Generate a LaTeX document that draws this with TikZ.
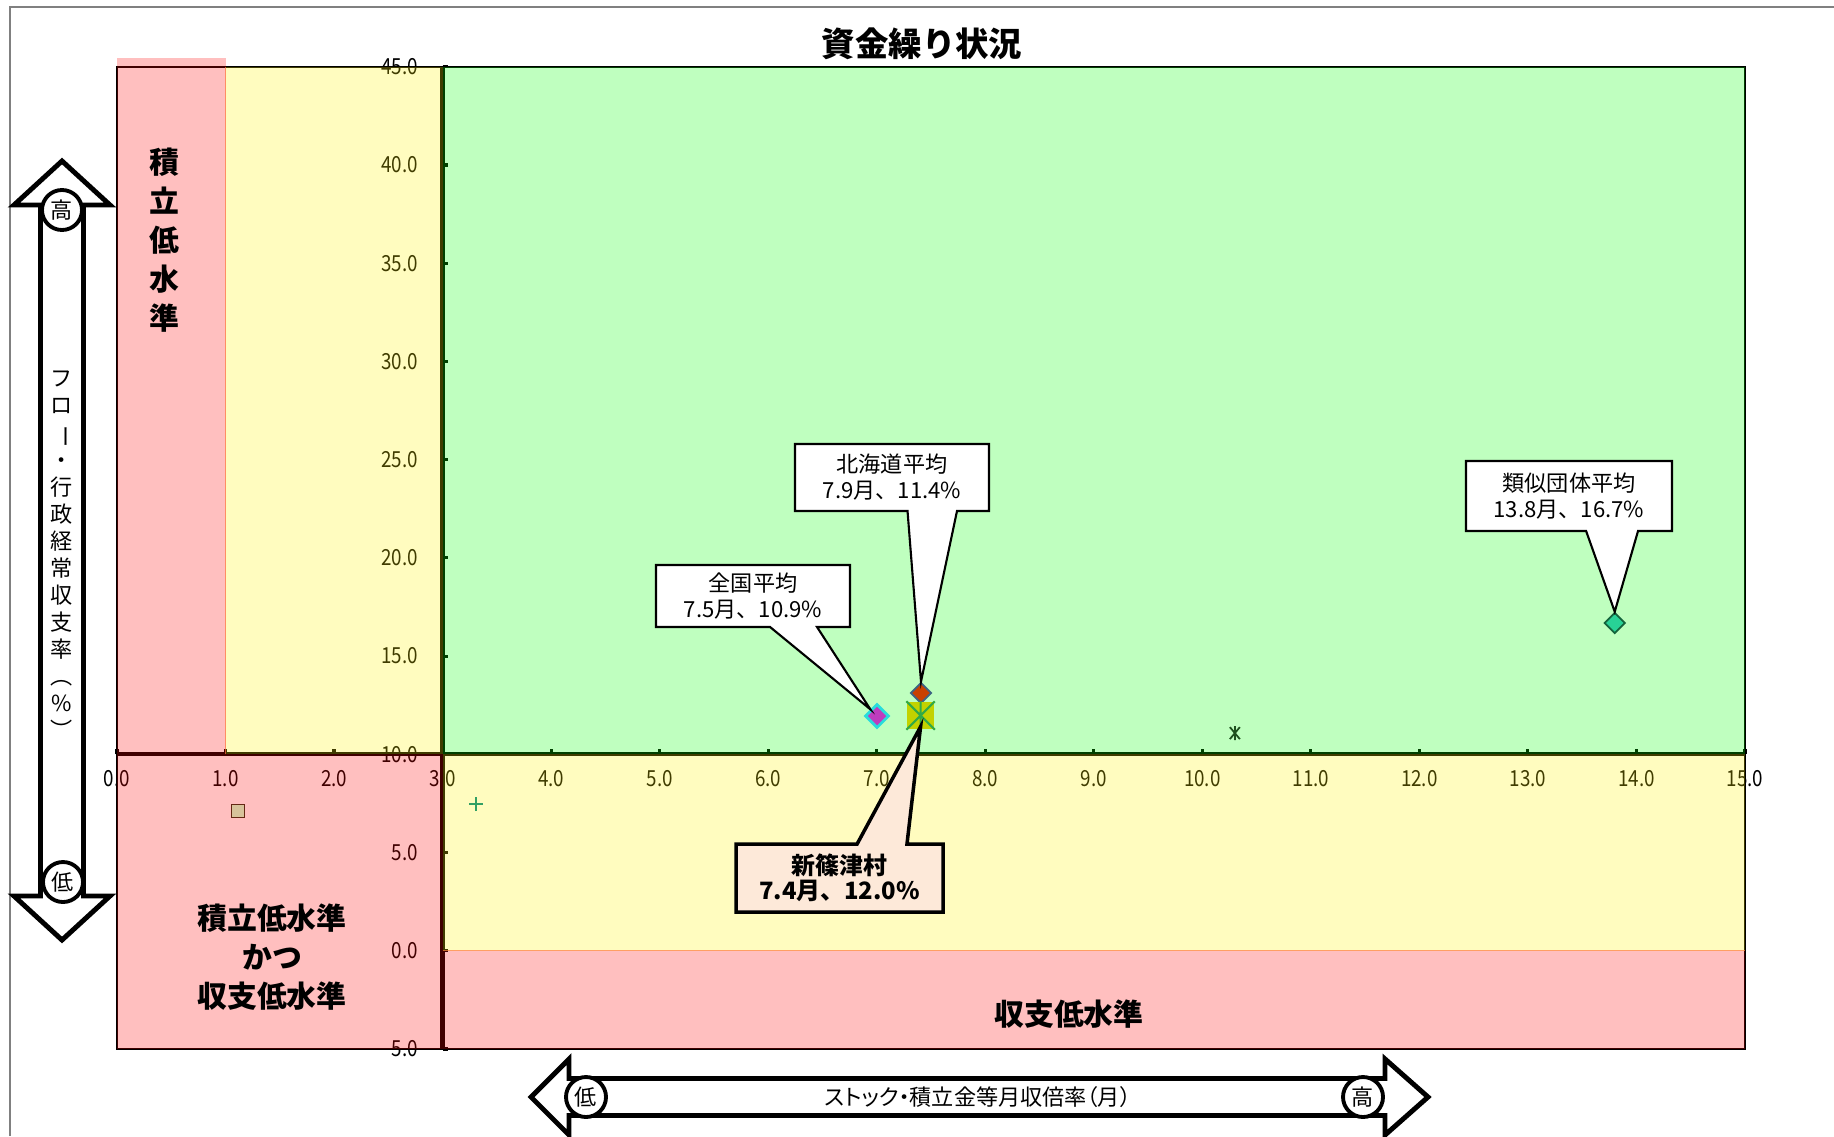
\documentclass[tikz,border=0pt]{standalone}
\usepackage{fontspec}
\setmainfont{Noto Sans CJK JP}
\newfontfamily\numfont{Noto Sans CJK JP}[FakeStretch=0.85]
\newfontfamily\propfont{Noto Sans CJK JP}[RawFeature=+palt]
\usetikzlibrary{shapes.geometric,calc,positioning}
\definecolor{zoneedge}{RGB}{255,120,60}
\definecolor{peach}{RGB}{253,233,217}
\definecolor{hkdfill}{RGB}{200,64,0}
\definecolor{hkdline}{RGB}{60,100,130}
\definecolor{zkfill}{RGB}{190,60,190}
\definecolor{zkline}{RGB}{40,220,220}
\definecolor{rjfill}{RGB}{40,210,150}
\definecolor{rjline}{RGB}{20,100,60}
\definecolor{vilfill}{RGB}{195,210,0}
\definecolor{vilstar}{RGB}{50,170,70}
\definecolor{tanfill}{RGB}{215,195,155}
\definecolor{tanline}{RGB}{100,40,20}
\definecolor{plusgreen}{RGB}{50,160,100}
\definecolor{astgreen}{RGB}{30,80,30}

\begin{document}
\begin{tikzpicture}[
    zone/.style={opacity=0.25},
    ticklbl/.style={font=\numfont\fontsize{6.3}{7}\selectfont, inner sep=0pt},
    boxarrow/.style={draw=black, fill=white, line width=1.4pt, line join=miter},
    endmark/.style={circle, draw=black, fill=white, line width=1.1pt, minimum size=4mm, inner sep=0pt, font=\fontsize{6.3}{7}\selectfont},
    callbox/.style={rectangle, inner sep=0pt, outer sep=0pt},
    callline/.style={draw=black, fill=white, line width=0.6pt, line join=miter},
    calltext/.style={align=center, inner sep=0pt, font=\fontsize{6.3}{7.4}\selectfont},
    zonelbl/.style={align=center, inner sep=0pt, font=\bfseries\fontsize{8.5}{11.1}\selectfont},
    dia/.style={diamond, aspect=1, minimum size=2.1mm, inner sep=0pt, line width=0.5pt}]
  \useasboundingbox (0,0) rectangle (18.34,11.36);
  \draw[gray, line width=0.5pt] (0.10,0)--(0.10,11.29)--(18.34,11.29);

  \node[font=\bfseries\fontsize{9.5}{11}\selectfont] (title) at (9.22,10.92) {資金繰り状況};

  \begin{scope}[shift={(1.17,1.8523)}, x=1.0853cm, y=0.19646cm]
    \draw[line width=0.6pt] (0,-5) rectangle (15,45);
    \draw[line width=1.2pt] (0,10)--(15,10);
    \draw[line width=1.2pt] (3,-5)--(3,45);
    \foreach \x in {0,...,15} {
      \draw[line width=0.9pt] (\x,10)--(\x,10.28);
      \node[ticklbl] (xl\x) at (\x,8.74) {\x.0};
    }
    \foreach \y/\t in {45/45.0,40/40.0,35/35.0,30/30.0,25/25.0,20/20.0,15/15.0,10/10.0,5/5.0,0/0.0,-5/5.0} {
      \draw[line width=0.9pt] (3,\y)--(3.05,\y);
      \node[ticklbl, anchor=east] (yl\y) at (2.78,\y) {\t};
    }

    \fill[red, zone] (0,10) rectangle (1,45.44);
    \fill[yellow, zone] (1,10) rectangle (3,45);
    \fill[green, zone] (3,10) rectangle (15,45);
    \fill[red, zone] (0,-5) rectangle (3,10);
    \fill[yellow, zone] (3,0) rectangle (15,10);
    \fill[red, zone] (3,-5) rectangle (15,0);
    \draw[zoneedge, line width=0.4pt, opacity=0.7] (1,10)--(1,45);
    \draw[zoneedge, line width=0.4pt, opacity=0.7] (3,0)--(15,0);

    \node[rectangle, fill=tanfill, draw=tanline, line width=0.5pt, minimum size=1.3mm, inner sep=0pt] (tanmk) at (1.115,7.11) {};
    \coordinate (plusmk) at (3.31,7.47);
    \draw[plusgreen, line width=0.5pt] ($(plusmk)+(-0.7mm,0mm)$)--($(plusmk)+(0.7mm,0mm)$) ($(plusmk)+(0mm,-0.7mm)$)--($(plusmk)+(0mm,0.7mm)$);
    \coordinate (astmk) at (10.30,11.08);
    \draw[astgreen, line width=0.5pt] ($(astmk)+(-0.5mm,-0.6mm)$)--($(astmk)+(0.5mm,0.6mm)$) ($(astmk)+(-0.5mm,0.6mm)$)--($(astmk)+(0.5mm,-0.6mm)$) ($(astmk)+(0mm,-0.7mm)$)--($(astmk)+(0mm,0.7mm)$);
    \node[dia, fill=zkfill, draw=zkline, line width=0.8pt, minimum size=2.4mm] (zkmk) at (7.003,11.95) {};
    \node[dia, fill=hkdfill, draw=hkdline] (hkdmk) at (7.408,13.12) {};
    \node[rectangle, fill=vilfill, minimum size=2.7mm, inner sep=0pt] (vilmk) at (7.404,11.975) {};
    \draw[vilstar, line width=0.6pt] (vilmk.north west)--(vilmk.south east) (vilmk.south west)--(vilmk.north east) (vilmk.north)--(vilmk.south);
    \node[dia, fill=rjfill, draw=rjline] (rjmk) at (13.80,16.68) {};
  \end{scope}

  \node[callbox, minimum width=1.94cm, minimum height=0.62cm] (zkbox) at (7.53,5.40) {};
  \draw[callline] (zkbox.north west)--(zkbox.north east)--(zkbox.south east)--($(zkbox.south west)!0.83!(zkbox.south east)$)--(zkmk.north west)--($(zkbox.south west)!0.588!(zkbox.south east)$)--(zkbox.south west)--cycle;
  \node[calltext] (zktxt) at (zkbox) {全国平均\\7.5月、10.9\%};

  \node[callbox, minimum width=1.94cm, minimum height=0.67cm] (hkdbox) at (8.92,6.585) {};
  \draw[callline] (hkdbox.north west)--(hkdbox.north east)--(hkdbox.south east)--($(hkdbox.south west)!0.835!(hkdbox.south east)$)--(hkdmk.north)--($(hkdbox.south west)!0.58!(hkdbox.south east)$)--(hkdbox.south west)--cycle;
  \node[calltext] (hkdtxt) at (hkdbox) {北海道平均\\7.9月、11.4\%};

  \node[callbox, minimum width=2.06cm, minimum height=0.70cm] (rjbox) at (15.69,6.40) {};
  \draw[callline] (rjbox.north west)--(rjbox.north east)--(rjbox.south east)--($(rjbox.south west)!0.835!(rjbox.south east)$)--(rjmk.north)--($(rjbox.south west)!0.583!(rjbox.south east)$)--(rjbox.south west)--cycle;
  \node[calltext] (rjtxt) at (rjbox) {類似団体平均\\13.8月、16.7\%};

  \node[callbox, minimum width=2.07cm, minimum height=0.68cm] (vilbox) at (8.395,2.58) {};
  \draw[callline, fill=peach, line width=1pt] (vilbox.south west)--(vilbox.north west)--($(vilbox.north west)!0.585!(vilbox.north east)$)--($(vilmk.south)+(0mm,0.3mm)$)--($(vilbox.north west)!0.826!(vilbox.north east)$)--(vilbox.north east)--(vilbox.south east)--cycle;
  \node[calltext, font=\bfseries\fontsize{6.8}{7.2}\selectfont] (viltxt) at (vilbox) {新篠津村\\7.4月、12.0\%};

  \node[zonelbl] (stklbl) at (1.64,8.96) {積\\立\\低\\水\\準};
  \node[zonelbl] (bothlbl) at (2.72,1.79) {積立低水準\\かつ\\収支低水準};
  \node[zonelbl] (flowlbl) at (10.69,1.22) {収支低水準};

  \draw[boxarrow] (0.62,9.75)--(1.10,9.31)--(0.835,9.31)--(0.835,2.40)--(1.10,2.40)--(0.62,1.96)--(0.14,2.40)--(0.405,2.40)--(0.405,9.31)--(0.14,9.31)--cycle;
  \node[endmark] (yhigh) at (0.62,9.26) {高};
  \node[endmark] (ylow) at (0.63,2.54) {低};
  \node[align=center, inner sep=0pt, font=\fontsize{6.3}{7.7}\selectfont] (ylabel) at (0.62,5.81) {フ\\ロ\\\rotatebox[origin=c]{-90}{ー}\\・\\行\\政\\経\\常\\収\\支\\率\\︵\\\%\\︶};

  \draw[boxarrow] (5.31,0.39)--(5.69,0.77)--(5.69,0.575)--(13.85,0.575)--(13.85,0.77)--(14.28,0.39)--(13.85,0.01)--(13.85,0.205)--(5.69,0.205)--(5.69,0.01)--cycle;
  \node[endmark] (xlow) at (5.86,0.39) {低};
  \node[endmark] (xhigh) at (13.63,0.39) {高};
  \node[inner sep=0pt, font=\propfont\fontsize{6.3}{7}\selectfont] (xlabel) at (9.78,0.39) {ストック・積立金等月収倍率（月）};
\end{tikzpicture}
\end{document}
